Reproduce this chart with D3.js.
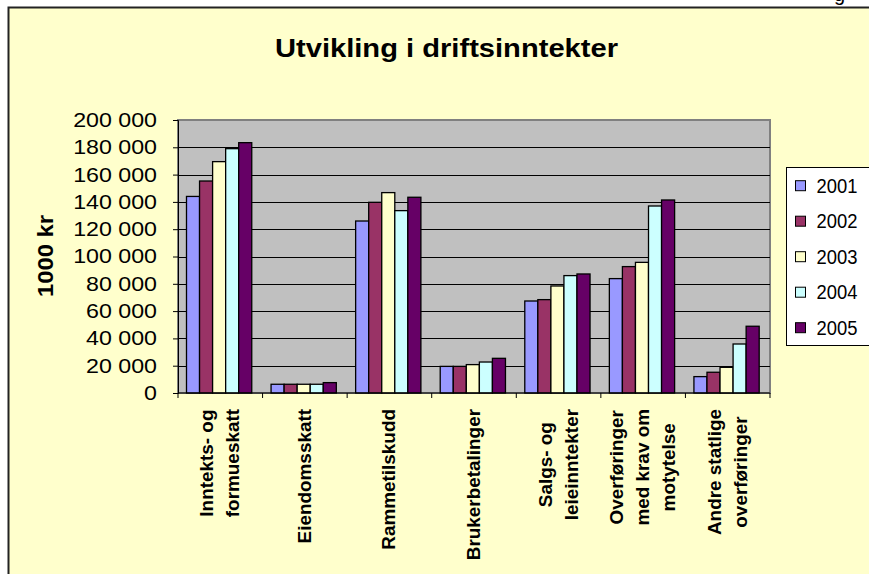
<!DOCTYPE html>
<html>
<head>
<meta charset="utf-8">
<script src="https://cdn.jsdelivr.net/npm/d3@7"></script>
<style>
  html, body { margin: 0; padding: 0; background: #fff; }
  svg { display: block; font-family: Arial, "Liberation Sans", sans-serif; }
</style>
</head>
<body>
<svg id="chart" width="869" height="574"></svg>
<script>
// categories, each split into the lines drawn under the axis
const categories = [
  ['Inntekts- og', 'formueskatt'],
  ['Eiendomsskatt'],
  ['Rammetilskudd'],
  ['Brukerbetalinger'],
  ['Salgs- og', 'leieinntekter'],
  ['Overføringer', 'med krav om', 'motytelse'],
  ['Andre statlige', 'overføringer']
];
const years = ['2001', '2002', '2003', '2004', '2005'];

// values in 1000 kr, one array per year
const v2001 = [144000, 6400, 126000, 19500, 67400, 83800, 12000];
const v2002 = [155300, 6400, 139700, 19500, 68400, 92600, 15200];
const v2003 = [169500, 6400, 146800, 20800, 78400, 95700, 18800];
const v2004 = [179000, 6400, 133600, 22700, 86000, 137000, 35900];
const v2005 = [183400, 7600, 143400, 25400, 87200, 141400, 48900];
const seriesValues = [v2001, v2002, v2003, v2004, v2005];

const yTicks = [0, 20000, 40000, 60000, 80000, 100000, 120000, 140000, 160000, 180000, 200000];
const seriesColors = ['#9999FF', '#993366', '#FFFFCC', '#CCFFFF', '#660066'];

const svg = d3.select('#chart');
const catKeys = categories.map((c) => c.join(' '));

const plot = { left: 178, right: 770, top: 120, bottom: 393 };

// excel text comes out a bit wider than the font metrics
function stretch(sel, k) {
  sel.each(function () {
    const w = this.getComputedTextLength();
    d3.select(this).attr('textLength', w * k).attr('lengthAdjust', 'spacingAndGlyphs');
  });
}

// page background + chart frame
svg.append('rect').attr('width', 869).attr('height', 574).attr('fill', '#fff');
svg.append('text')
  .attr('x', 834).attr('y', 1)
  .attr('font-size', 20)
  .text('g');
svg.append('rect')
  .attr('x', 8.5).attr('y', 7.5)
  .attr('width', 900).attr('height', 600)
  .attr('fill', '#FFFFCC')
  .attr('stroke', '#222')
  .attr('stroke-width', 2);

const x0 = d3.scaleBand().domain(catKeys).range([plot.left, plot.right]).padding(0);
const x1 = d3.scaleBand().domain(years).range([0, x0.bandwidth()])
  .paddingInner(0).paddingOuter(0.74).align(0.44);
const y = d3.scaleLinear().domain([0, 200000]).range([plot.bottom, plot.top]);

// plot area
svg.append('rect')
  .attr('x', plot.left).attr('y', plot.top)
  .attr('width', plot.right - plot.left).attr('height', plot.bottom - plot.top)
  .attr('fill', '#C0C0C0')
  .attr('stroke', '#808080')
  .attr('stroke-width', 2);

svg.append('g')
  .selectAll('line')
  .data(yTicks.slice(1, -1))
  .enter()
  .append('line')
  .attr('x1', plot.left).attr('x2', plot.right)
  .attr('y1', (d) => Math.round(y(d)) + 0.5).attr('y2', (d) => Math.round(y(d)) + 0.5)
  .attr('stroke', '#000')
  .attr('stroke-width', 1);

// bars
const groups = svg.append('g')
  .selectAll('g')
  .data(years)
  .enter()
  .append('g')
  .attr('fill', (d, i) => seriesColors[i]);

groups.selectAll('rect')
  .data((yr, s) => seriesValues[s].map((v, c) => ({ key: catKeys[c], year: yr, value: v })))
  .enter()
  .append('rect')
  .attr('x', (d) => x0(d.key) + x1(d.year))
  .attr('y', (d) => y(d.value))
  .attr('width', x1.bandwidth())
  .attr('height', (d) => y(0) - y(d.value))
  .attr('stroke', '#000')
  .attr('stroke-width', 1.3);

// y axis
const fmt = d3.formatLocale({ decimal: ',', thousands: ' ', grouping: [3], currency: ['', ''] }).format(',');
const yAxis = svg.append('g')
  .attr('transform', `translate(${plot.left},0)`)
  .call(d3.axisLeft(y).tickValues(yTicks).tickFormat(fmt).tickSize(5).tickPadding(16));
yAxis.select('.domain').attr('stroke', '#000');
yAxis.selectAll('.tick line').attr('stroke', '#000');
yAxis.selectAll('text')
  .attr('font-size', 20)
  .attr('font-family', 'Arial, "Liberation Sans", sans-serif')
  .attr('fill', '#000')
  .call(stretch, 1.16);

// x axis line and category ticks
svg.append('line')
  .attr('x1', plot.left).attr('x2', plot.right)
  .attr('y1', plot.bottom).attr('y2', plot.bottom)
  .attr('stroke', '#000');
const bounds = catKeys.map((k) => x0(k)).concat([x0.range()[1]]);
svg.append('g')
  .selectAll('line')
  .data(bounds)
  .enter()
  .append('line')
  .attr('x1', (d) => d).attr('x2', (d) => d)
  .attr('y1', plot.bottom).attr('y2', plot.bottom + 5)
  .attr('stroke', '#000');

// category labels, rotated, block hangs from the axis
svg.append('g')
  .selectAll('g')
  .data(categories)
  .enter()
  .append('g')
  .each(function (lines, i) {
    const cx = x0(catKeys[i]) + x0.bandwidth() / 2;
    const texts = d3.select(this)
      .selectAll('text')
      .data(lines)
      .enter()
      .append('text')
      .attr('font-size', 18)
      .attr('font-weight', 'bold')
      .attr('text-anchor', 'middle')
      .attr('dominant-baseline', 'central')
      .text((d) => d);
    stretch(texts, 1.05);
    const L = d3.max(texts.nodes(), (n) => +n.getAttribute('textLength'));
    texts.attr('transform', (d, j) =>
      `translate(${cx + (j - (lines.length - 1) / 2) * 26},${409 + L / 2}) rotate(-90)`);
  });

// title
svg.append('text')
  .attr('x', 446.5).attr('y', 56.5)
  .attr('text-anchor', 'middle')
  .attr('font-size', 26)
  .attr('font-weight', 'bold')
  .text('Utvikling i driftsinntekter')
  .call(stretch, 1.12);

// y axis title
svg.append('text')
  .attr('transform', 'translate(45,256) rotate(-90)')
  .attr('text-anchor', 'middle')
  .attr('dominant-baseline', 'central')
  .attr('font-size', 22)
  .attr('font-weight', 'bold')
  .text('1000 kr')
  .call(stretch, 1.08);

// legend
const ly = d3.scalePoint().domain(years).range([185.7, 327.7]);
const legend = svg.append('g');
legend.append('rect')
  .attr('x', 786.5).attr('y', 167.5)
  .attr('width', 120).attr('height', 178)
  .attr('fill', '#fff')
  .attr('stroke', '#000');
const items = legend.selectAll('g.item')
  .data(years)
  .enter()
  .append('g')
  .attr('class', 'item')
  .attr('transform', (d) => `translate(0,${ly(d)})`);
items.append('rect')
  .attr('x', 795.5).attr('y', -5)
  .attr('width', 10).attr('height', 10)
  .attr('fill', (d, i) => seriesColors[i])
  .attr('stroke', '#000');
items.append('text')
  .attr('x', 816.5)
  .attr('dy', '0.36em')
  .attr('font-size', 20)
  .text((d) => d)
  .call(stretch, 0.92);
</script>
</body>
</html>
